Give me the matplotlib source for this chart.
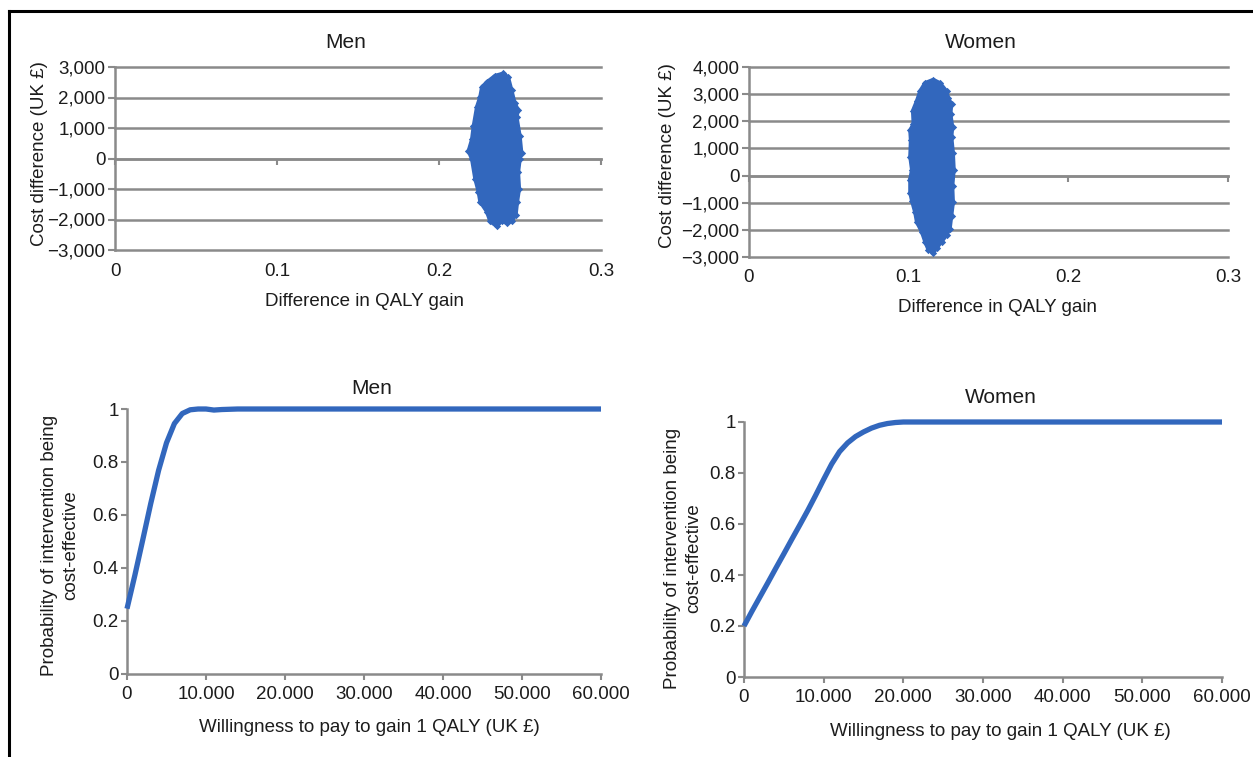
import matplotlib
matplotlib.use('Agg')
import matplotlib.pyplot as plt
from matplotlib.lines import Line2D
from matplotlib.ticker import FuncFormatter

plt.rcParams['font.family'] = ['Liberation Sans', 'DejaVu Sans']

# ---------------- data ----------------
# Outline of the men's cost-effectiveness cloud (QALY gain, cost difference)
men_qaly = [0.2397, 0.2428, 0.2449, 0.2469, 0.2490, 0.2480, 0.2500, 0.2510, 0.2500,
            0.2490, 0.2496, 0.2484, 0.2475, 0.2449, 0.2418, 0.2387, 0.2356, 0.2315,
            0.2294, 0.2253, 0.2243, 0.2222, 0.2202, 0.2181, 0.2202, 0.2212, 0.2233,
            0.2253, 0.2264, 0.2294, 0.2346]
men_cost = [2796, 2667, 2237, 1806, 1591, 1376, 731, 194, -22,
            -452, -989, -1419, -1849, -2065, -2118, -2065, -2226, -2065,
            -1742, -1419, -1097, -667, -22, 247, 624, 1054, 1699,
            2022, 2344, 2505, 2720]

# Outline of the women's cost-effectiveness cloud
women_qaly = [0.1154, 0.1196, 0.1238, 0.1248, 0.1269, 0.1263, 0.1275, 0.1269, 0.1279,
              0.1284, 0.1275, 0.1279, 0.1269, 0.1259, 0.1238, 0.1207, 0.1175, 0.1154,
              0.1123, 0.1102, 0.1081, 0.1050, 0.1039, 0.1019, 0.1008, 0.1008, 0.1019,
              0.1008, 0.1012, 0.1008, 0.1029, 0.1025, 0.1050, 0.1071, 0.1102]
women_cost = [3539, 3418, 3116, 2874, 2633, 2271, 1787, 1425, 821,
              217, -386, -990, -1473, -1957, -2198, -2440, -2681, -2862,
              -2742, -2440, -2077, -1715, -1353, -930, -628, -145, 217,
              700, 1304, 1667, 1908, 2391, 2754, 3116, 3418]

men_yticks = [-3000, -2000, -1000, 0, 1000, 2000, 3000]
women_yticks = [-3000, -2000, -1000, 0, 1000, 2000, 3000, 4000]
qaly_ticks = [0, 0.1, 0.2, 0.3]

# Cost-effectiveness acceptability curves
men_wtp = [0, 1000, 2000, 3000, 4000, 5000, 6000, 7000, 8000, 9000, 10000,
           11000, 12000, 14000, 20000, 30000, 40000, 50000, 60000]
men_prob = [0.245, 0.372, 0.506, 0.642, 0.768, 0.872, 0.945, 0.983, 0.997, 1.0, 1.0,
            0.996, 0.998, 1.0, 1.0, 1.0, 1.0, 1.0, 1.0]

women_wtp = [0, 1000, 2000, 3000, 4000, 5000, 6000, 7000, 8000, 9000, 10000,
             11000, 12000, 13000, 14000, 15000, 16000, 17000, 18000, 19000, 20000,
             30000, 40000, 50000, 60000]
women_prob = [0.20, 0.258, 0.314, 0.370, 0.427, 0.483, 0.540, 0.596, 0.653, 0.713, 0.775,
              0.835, 0.884, 0.918, 0.943, 0.961, 0.976, 0.987, 0.994, 0.998, 1.0,
              1.0, 1.0, 1.0, 1.0]

wtp_ticks = [0, 10000, 20000, 30000, 40000, 50000, 60000]
prob_ticks = [0, 0.2, 0.4, 0.6, 0.8, 1.0]

# ---------------- layout / style ----------------
W, H = 1253, 757
fig = plt.figure(figsize=(W / 100, H / 100), dpi=100)

BLUE = '#3267bd'
GRID = '#8a8a8a'
TXT = '#1c1c1c'
FS = 13.5
TFS = 15


def box(l, t, r, b):
    return [l / W, 1 - b / H, (r - l) / W, (b - t) / H]


def ftext(x, y, s, **kw):
    fig.text(x / W, 1 - y / H, s, ha='center', va='center', color=TXT, **kw)


def fmt_cost(v, _):
    s = f'{abs(int(round(v))):,}'
    return ('\u2212' + s) if v < 0 else s


def fmt_wtp(v, _):
    return f'{int(round(v)):,}'.replace(',', '.')


def fmt_prob(v, _):
    return f'{v:g}'


def scatter_panel(rect, xs, ys, yticks):
    ax = fig.add_axes(box(*rect))
    ax.fill(xs, ys, color=BLUE, lw=2.5, ec=BLUE, joinstyle='round', zorder=3)
    ax.scatter(xs, ys, s=14, marker='D', color=BLUE, lw=0, zorder=3)
    ax.set_xlim(0, 0.3)
    ax.set_ylim(yticks[0], yticks[-1])
    ax.set_yticks(yticks)
    ax.yaxis.set_major_formatter(FuncFormatter(fmt_cost))
    ax.grid(axis='y', color=GRID, lw=1.8)
    for gl in ax.get_ygridlines():
        gl.set_clip_on(False)
    ax.set_axisbelow(True)
    for s in ('top', 'right'):
        ax.spines[s].set_visible(False)
    ax.spines['left'].set_color(GRID)
    ax.spines['left'].set_linewidth(1.8)
    ax.spines['bottom'].set_position(('data', 0))
    ax.spines['bottom'].set_color(GRID)
    ax.spines['bottom'].set_linewidth(1.8)
    ax.set_xticks(qaly_ticks)
    ax.tick_params(axis='x', direction='out', length=4, width=1.5, color=GRID,
                   labelbottom=False)
    ax.tick_params(axis='y', direction='out', length=5, width=1.5, color=GRID,
                   labelsize=FS, labelcolor=TXT, pad=2)
    sec = ax.secondary_xaxis(0.0)
    sec.set_xticks(qaly_ticks)
    sec.xaxis.set_major_formatter(FuncFormatter(fmt_prob))
    sec.spines['bottom'].set_visible(False)
    sec.tick_params(length=0, pad=9, labelsize=FS, labelcolor=TXT)
    return ax


def ceac_panel(rect, xs, ys):
    ax = fig.add_axes(box(*rect))
    ax.plot(xs, ys, color=BLUE, lw=3.8, solid_capstyle='butt',
            solid_joinstyle='round', clip_on=False, zorder=3)
    ax.set_xlim(0, 60000)
    ax.set_ylim(0, 1)
    ax.set_xticks(wtp_ticks)
    ax.set_yticks(prob_ticks)
    ax.xaxis.set_major_formatter(FuncFormatter(fmt_wtp))
    ax.yaxis.set_major_formatter(FuncFormatter(fmt_prob))
    for s in ('top', 'right'):
        ax.spines[s].set_visible(False)
    for s in ('left', 'bottom'):
        ax.spines[s].set_color(GRID)
        ax.spines[s].set_linewidth(1.8)
    ax.tick_params(direction='out', length=4, width=1.5, color=GRID,
                   labelsize=FS, labelcolor=TXT)
    ax.tick_params(axis='x', pad=5)
    ax.tick_params(axis='y', pad=2)
    return ax


# top row: cost-effectiveness planes
scatter_panel((115, 67, 601, 250), men_qaly, men_cost, men_yticks)
scatter_panel((749, 67, 1228, 257), women_qaly, women_cost, women_yticks)

# bottom row: acceptability curves
ceac_panel((127, 409, 601, 673.5), men_wtp, men_prob)
ceac_panel((744, 422, 1222, 677), women_wtp, women_prob)

# titles and labels
ftext(346, 43, 'Men', fontsize=TFS)
ftext(981, 43, 'Women', fontsize=TFS)
ftext(372, 388, 'Men', fontsize=TFS)
ftext(1001, 398, 'Women', fontsize=TFS)

ftext(364, 302, 'Difference in QALY gain', fontsize=FS)
ftext(997, 307, 'Difference in QALY gain', fontsize=FS)
ftext(369, 727, 'Willingness to pay to gain 1 QALY (UK \u00a3)', fontsize=FS)
ftext(1000, 732, 'Willingness to pay to gain 1 QALY (UK \u00a3)', fontsize=FS)

ftext(40, 154, 'Cost difference (UK \u00a3)', fontsize=FS, rotation=90)
ftext(668, 156, 'Cost difference (UK \u00a3)', fontsize=FS, rotation=90)
ftext(60, 545, 'Probability of intervention being\ncost-effective', fontsize=FS,
      rotation=90, linespacing=1.3, multialignment='center')
ftext(683, 558, 'Probability of intervention being\ncost-effective', fontsize=FS,
      rotation=90, linespacing=1.3, multialignment='center')

# frame lines (top and left) of the cropped figure
fig.add_artist(Line2D([9 / W, 1], [1 - 11 / H, 1 - 11 / H], color='black', lw=2.2))
fig.add_artist(Line2D([9 / W, 9 / W], [0, 1 - 11 / H], color='black', lw=2.2))

fig.savefig('out.png', dpi=100)
